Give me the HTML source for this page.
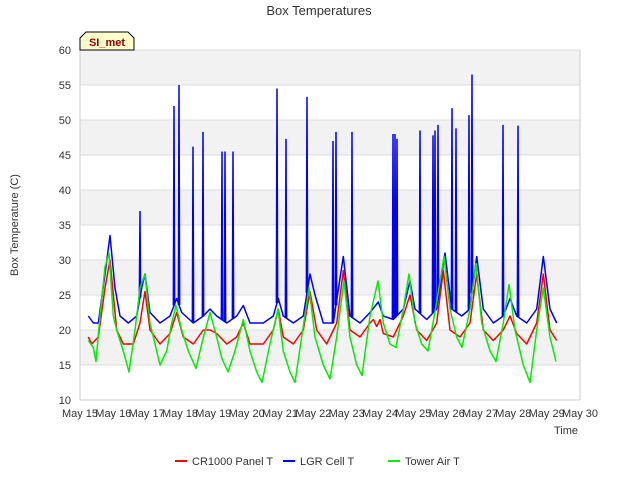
<!DOCTYPE html>
<html><head><meta charset="utf-8"><style>
body{margin:0;background:#fff;font-family:"Liberation Sans",sans-serif}
</style></head><body>
<svg id="c" width="640" height="480" xmlns="http://www.w3.org/2000/svg" font-family="Liberation Sans, sans-serif">
<text x="319" y="15" text-anchor="middle" font-size="13" fill="#333">Box Temperatures</text>
<g id="grid"></g>
<g id="axes"></g>
<g id="series"></g>
<text x="566" y="434" text-anchor="middle" font-size="11" fill="#333">Time</text>
<text transform="translate(18,225) rotate(-90)" text-anchor="middle" font-size="11" fill="#333">Box Temperature (C)</text>
<g>
<path d="M80,50 L80,38 L86,32 L128,32 L134,38 L134,50 Z" fill="#ffffcc" stroke="#000" stroke-width="1"/>
<text x="107" y="46" text-anchor="middle" font-size="11" font-weight="bold" fill="#8b0000">SI_met</text>
</g>
<g>
<g><line x1="175" y1="461" x2="187" y2="461" stroke="#ff0000" stroke-width="2"/><text x="192" y="465" font-size="11" fill="#333">CR1000 Panel T</text></g>
<g><line x1="283" y1="461" x2="295" y2="461" stroke="#0000ff" stroke-width="2"/><text x="300" y="465" font-size="11" fill="#333">LGR Cell T</text></g>
<g><line x1="388" y1="461" x2="400" y2="461" stroke="#00ee00" stroke-width="2"/><text x="405" y="465" font-size="11" fill="#333">Tower Air T</text></g>
</g>
</svg>
<script>
const xTickLabels=["May 15","May 16","May 17","May 18","May 19","May 20","May 21","May 22","May 23","May 24","May 25","May 26","May 27","May 28","May 29","May 30"];
const yTicks=[10,15,20,25,30,35,40,45,50,55,60];
const redT=[0.25,0.35,0.55,0.75,0.9,1.1,1.3,1.6,1.8,1.95,2.1,2.4,2.7,2.9,3.1,3.4,3.7,3.9,4.1,4.4,4.7,4.9,5.1,5.5,5.8,5.95,6.1,6.4,6.7,6.9,7.1,7.4,7.7,7.9,8.1,8.4,8.7,8.8,8.9,9.0,9.1,9.4,9.7,9.9,10.1,10.4,10.7,10.9,11.1,11.4,11.7,11.9,12.1,12.4,12.7,12.9,13.1,13.4,13.7,13.9,14.1,14.3];
const redV=[19,18,19,26,30,20,18,18,21,25.5,20,18,19.5,22.5,19,18,20,20,19.5,18,19,21,18,18,20,23,19,18,20,25.5,20,18,21,28.5,20,19,21,21.5,20.5,21.5,19.5,19,22,25,20,18.5,21,28.5,20,19,21,28,20,18.5,20,22,19.5,18,21,28,20,18.5];
const blueT=[0.25,0.4,0.55,0.75,0.9,1.05,1.2,1.45,1.7,1.85,1.95,2.1,2.4,2.7,2.9,3.05,3.4,3.7,3.9,4.1,4.4,4.7,4.9,5.1,5.5,5.8,5.95,6.1,6.4,6.7,6.9,7.05,7.3,7.6,7.9,8.1,8.4,8.7,8.95,9.1,9.4,9.7,9.9,10.05,10.4,10.7,10.95,11.15,11.45,11.7,11.9,12.1,12.4,12.7,12.9,13.1,13.4,13.7,13.9,14.1,14.3];
const blueV=[22,21,21,28,33.5,26,22,21,22,26,28,22.5,21,22,24.5,22.5,21,22,23,22,21,22,23.5,21,21,22,24.5,22,21,22,28,25,21,21,30.5,22,21,22.5,24,22,21.5,23,27,23,21.5,23,31,23,22,23,30.5,23,21,22,24.5,22,21,23,30.5,23,21];
const spikeT=[1.8,2.82,2.97,3.39,3.69,4.26,4.35,4.59,5.91,6.18,6.81,7.59,7.68,8.16,9.39,9.45,9.51,10.2,10.59,10.65,10.74,11.16,11.28,11.67,11.76,12.69,13.14];
const spikeV=[37,52,55,46.2,48.3,45.5,45.5,45.5,54.5,47.3,53.3,47,48.3,48.3,48,48,47.3,48.5,47.8,48.5,49.3,51.7,48.8,50.7,56.5,49.3,49.2];
const greenT=[0.25,0.4,0.48,0.6,0.75,0.87,1.0,1.1,1.3,1.47,1.65,1.8,1.95,2.1,2.4,2.6,2.75,2.88,3.05,3.25,3.48,3.65,3.9,4.1,4.25,4.44,4.65,4.9,5.1,5.3,5.46,5.7,5.94,6.1,6.3,6.45,6.65,6.87,7.05,7.3,7.5,7.7,7.92,8.1,8.3,8.46,8.7,8.94,9.1,9.3,9.48,9.7,9.87,10.05,10.25,10.44,10.7,10.92,11.1,11.3,11.46,11.7,11.88,12.05,12.3,12.48,12.7,12.87,13.05,13.3,13.5,13.7,13.9,14.1,14.28];
const greenV=[18.5,17.5,15.5,22,29,31,22,20,17,14,20,26,28,21,15,17,21,23.5,20,17,14.5,18,22.5,19,16,14,17,21.5,17,14,12.5,18,23,17,14,12.5,19,26,19,15,13,19,27,19,15,13.5,22,27,21,18,17.5,23,28,21,18,17,24,30.5,23,19,17.5,23,29.5,21,17,15.5,21,26.5,20,15,12.5,20,26,19,15.5];
const X0=80,X1=580,Y0=400,Y1=50;
const xs=t=>X0+t*(X1-X0)/15;
const ys=v=>Y0-(v-10)*(Y0-Y1)/50;
const NS="http://www.w3.org/2000/svg";
function mk(tag,attrs,parent){const e=document.createElementNS(NS,tag);for(const k in attrs)e.setAttribute(k,attrs[k]);parent.appendChild(e);return e;}
const grid=document.getElementById('grid'),axes=document.getElementById('axes'),ser=document.getElementById('series');
for(let i=0;i<yTicks.length-1;i++){
  if(i%2==1){const r=mk('rect',{x:X0,y:ys(yTicks[i+1]),width:X1-X0,height:ys(yTicks[i])-ys(yTicks[i+1]),fill:'#f2f2f2'},grid);
  
  }
}
yTicks.forEach(v=>{
  const l=mk('line',{x1:X0,x2:X1,y1:ys(v),y2:ys(v),stroke:'#dcdcdc','stroke-width':1},grid);
  
  
  const t=mk('text',{x:X0-9,y:ys(v)+4,'text-anchor':'end','font-size':11,fill:'#333'},axes);
  t.textContent=v;
  
  
});
const ax=mk('line',{x1:X0,x2:X0,y1:Y1,y2:Y0,stroke:'#ccc'},axes);


const bx=mk('line',{x1:X0,x2:X1,y1:Y0,y2:Y0,stroke:'#ccc'},axes);


const rx=mk('line',{x1:X1,x2:X1,y1:Y1,y2:Y0,stroke:'#ccc'},axes);


xTickLabels.forEach((s,i)=>{
  const t=mk('text',{x:xs(i),y:417,'text-anchor':'middle','font-size':11,fill:'#333'},axes);
  t.textContent=s;
  
  
});
function line(T,V,color,name){
  const p=mk('polyline',{points:T.map((t,i)=>xs(t).toFixed(1)+','+ys(V[i]).toFixed(1)).join(' '),fill:'none',stroke:color,'stroke-width':1.5,'stroke-linejoin':'round'},ser);
  
  
}
function baseAt(t){for(let i=1;i<blueT.length;i++){if(blueT[i]>=t){const a=blueT[i-1],b=blueT[i];return blueV[i-1]+(blueV[i]-blueV[i-1])*(t-a)/(b-a);}}return blueV[blueV.length-1];}
line(blueT,blueV,'#0000ff','lgr-cell-t-line');
spikeT.forEach((t,i)=>{
  const b=baseAt(t);
  const s=mk('polyline',{points:`${xs(t-0.02)},${ys(b)} ${xs(t)},${ys(spikeV[i])} ${xs(t+0.02)},${ys(b)}`,fill:'none',stroke:'#0000ff','stroke-width':1.5},ser);
  
  
});
line(redT,redV,'#ff0000','cr1000-panel-t-line');
line(greenT,greenV,'#00ee00','tower-air-t-line');
</script>
</body></html>
